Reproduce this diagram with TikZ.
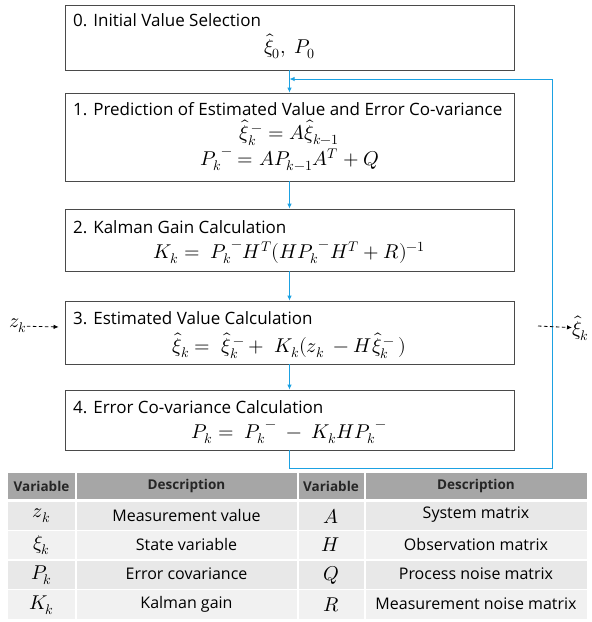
\documentclass[tikz,border=0pt]{standalone}
\usepackage{amsmath}
\usepackage{fontspec}
\usepackage{unicode-math}
\setmainfont{Open Sans}
\setmathfont{Latin Modern Math}
\usepackage{tikz}
\usetikzlibrary{arrows.meta}
\definecolor{bleu}{HTML}{1BA1E2}
\definecolor{bord}{HTML}{4A4A4A}
\definecolor{entete}{HTML}{A6A6A6}
\definecolor{ligneA}{HTML}{E8E8E8}
\definecolor{ligneB}{HTML}{F1F1F1}

\begin{document}
\begin{tikzpicture}[x=1pt, y=-1pt,
    etape/.style={draw=bord, line width=0.8pt, minimum width=449pt, inner sep=0pt},
    titre/.style={anchor=west, inner sep=0pt, font=\fontsize{17}{19}\selectfont},
    formule/.style={inner sep=0pt, font=\fontsize{20}{22}\selectfont},
    fleche/.style={draw=bleu, line width=0.9pt, -{Latex[length=5pt,width=4.5pt]}},
    entree/.style={dashed, dash pattern=on 3.5pt off 2.5pt, line width=0.8pt, -{Latex[length=5pt,width=4.5pt]}},
    cellule/.style={inner sep=0pt, font=\fontsize{16}{18}\selectfont},
    tete/.style={inner sep=0pt, font=\fontsize{13.5}{15}\selectfont\bfseries, text=black!85}]
    \useasboundingbox (0,0) rectangle (592,622);

    % Etapes du filtre
    \node[etape, minimum height=65pt] (b0) at (289.5,37.5) {};
    \node[etape, minimum height=88pt] (b1) at (289.5,137) {};
    \node[etape, minimum height=62pt] (b2) at (289.5,240) {};
    \node[etape, minimum height=63pt] (b3) at (289.5,332.5) {};
    \node[etape, minimum height=60pt] (b4) at (289.5,420) {};

    % Titres
    \node[titre] (t0) at (73,20) {0. Initial Value Selection};
    \node[titre] (t1) at (73,109) {1. Prediction of Estimated Value and Error Co-variance};
    \node[titre] (t2) at (73,227) {2. Kalman Gain Calculation};
    \node[titre] (t3) at (73,318) {3. Estimated Value Calculation};
    \node[titre] (t4) at (73,407) {4. Error Co-variance Calculation};

    % Formules
    \node[formule] (f0) at (289.5,46) {$\hat{\xi}_0,\ P_0$};
    \node[formule] (f1a) at (289.5,133) {${\hat{\xi}_k}^{\,-} = A\hat{\xi}_{k-1}$};
    \node[formule] (f1b) at (289.5,160) {${P_k}^{-} = AP_{k-1}A^T + Q$};
    \node[formule] (f2) at (289.5,253) {$K_k =\ {P_k}^{-}H^T(H{P_k}^{-}H^T + R)^{-1}$};
    \node[formule] (f3) at (289.5,346) {$\hat{\xi}_k =\ {\hat{\xi}_k}^{\,-} +\ K_k(z_k\ - H{\hat{\xi}_k}^{\,-}\,)$};
    \node[formule] (f4) at (289.5,434) {$P_k =\ {P_k}^{-}\ -\ K_kH{P_k}^{-}$};

    % Liaisons
    \draw[fleche] (b0) -- (b1);
    \draw[fleche] (b1) -- (b2);
    \draw[fleche] (b2) -- (b3);
    \draw[fleche] (b3) -- (b4);

    % Boucle de retour
    \coordinate (coinbas) at (552,468);
    \coordinate (coinhaut) at (552,79);
    \draw[fleche] (b4.south) |- (coinbas) -- (coinhaut) -- (b0.south |- coinhaut);

    % Mesure et estimation
    \node[formule] (zk) at (18,326) {$z_k$};
    \node[formule, anchor=west] (xik) at (572,328) {$\hat{\xi}_k$};
    \draw[entree, shorten >=6pt] (zk) -- (b3);
    \coordinate (sortie) at (538,326);
    \draw[entree] (sortie) -- (xik);

    % Tableau des variables
    \fill[entete] (8,473) rectangle (75,499);
    \fill[entete] (76.5,473) rectangle (297,499);
    \fill[entete] (298.5,473) rectangle (364,499);
    \fill[entete] (365.5,473) rectangle (587,499);
    \foreach \ya/\yb/\c in {501.5/529.5/ligneA, 531/559/ligneB, 560.5/588.5/ligneA, 590/618.5/ligneB} {
        \fill[\c] (8,\ya) rectangle (75,\yb);
        \fill[\c] (76.5,\ya) rectangle (297,\yb);
        \fill[\c] (298.5,\ya) rectangle (364,\yb);
        \fill[\c] (365.5,\ya) rectangle (587,\yb);
    }

    % En-tete
    \node[tete] (h1) at (41.5,486) {Variable};
    \node[tete] (h2) at (186.5,486) {Description};
    \node[tete] (h3) at (331,486) {Variable};
    \node[tete] (h4) at (476,486) {Description};

    % Lignes
    \node[formule] (v1) at (41.5,516) {$z_k$};
    \node[cellule] (d1) at (186.5,515) {Measurement value};
    \node[formule] (w1) at (331,516) {$A$};
    \node[cellule] (e1) at (476,515) {System matrix};
    \node[formule] (v2) at (41.5,545) {$\xi_k$};
    \node[cellule] (d2) at (186.5,544) {State variable};
    \node[formule] (w2) at (331,545) {$H$};
    \node[cellule] (e2) at (476,544) {Observation matrix};
    \node[formule] (v3) at (41.5,575) {$P_k$};
    \node[cellule] (d3) at (186.5,574) {Error covariance};
    \node[formule] (w3) at (331,575) {$Q$};
    \node[cellule] (e3) at (476,574) {Process noise matrix};
    \node[formule] (v4) at (41.5,605) {$K_k$};
    \node[cellule] (d4) at (186.5,604) {Kalman gain};
    \node[formule] (w4) at (331,605) {$R$};
    \node[cellule] (e4) at (476,604) {Measurement noise matrix};
\end{tikzpicture}
\end{document}
